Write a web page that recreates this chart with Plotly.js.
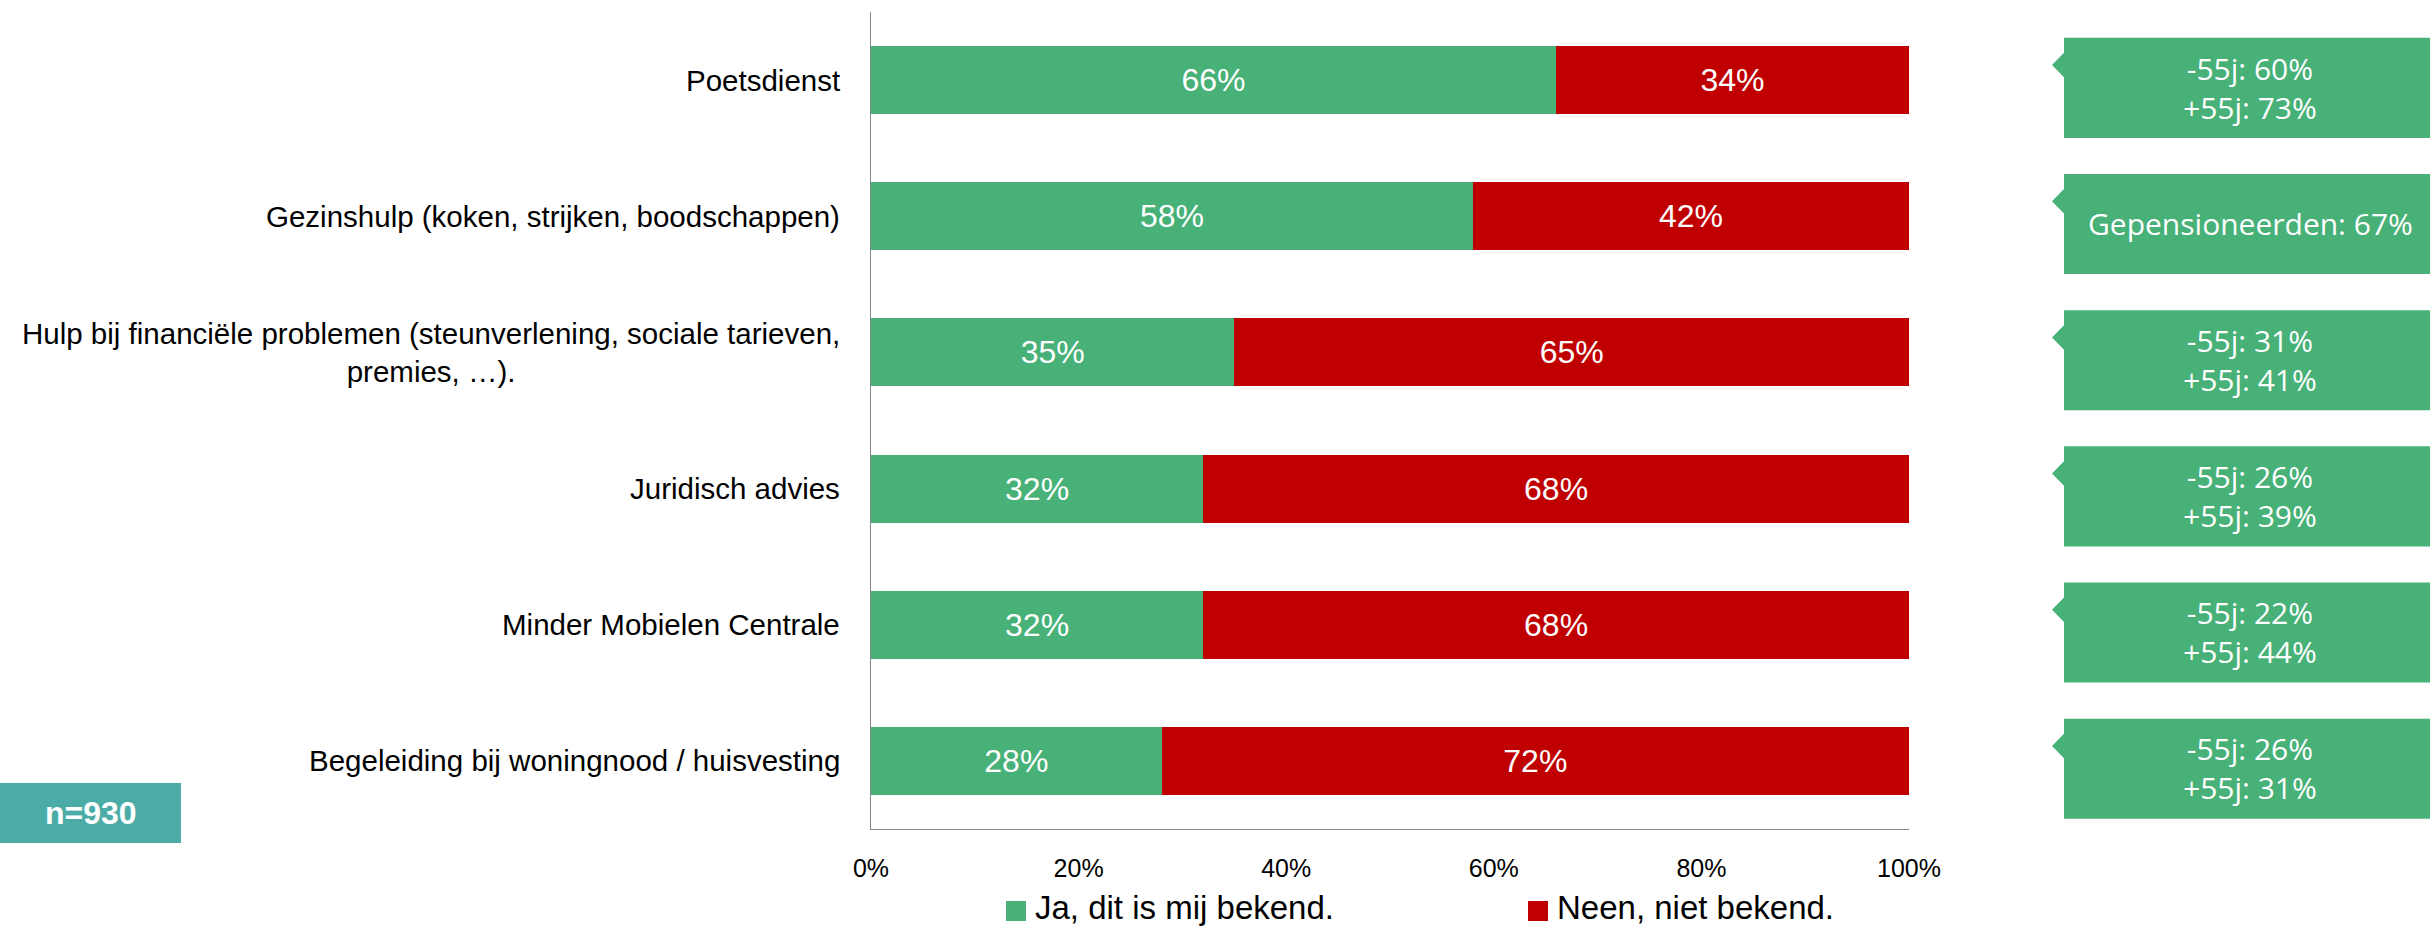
<!DOCTYPE html>
<html>
<head>
<meta charset="utf-8">
<script src="https://cdn.plot.ly/plotly-3.0.1.min.js"></script>
<style>html,body{margin:0;padding:0;background:#fff;}#chart{width:2430px;height:928px;}</style>
</head>
<body>
<div id="chart"></div>
<script>
// ---- data ----
const categories = [
  "Poetsdienst",
  "Gezinshulp (koken, strijken, boodschappen)",
  "Hulp bij financiële problemen (steunverlening, sociale tarieven,<br>premies, …).",
  "Juridisch advies",
  "Minder Mobielen Centrale",
  "Begeleiding bij woningnood / huisvesting"
];
const jaValues = [66, 58, 35, 32, 32, 28];
const neenValues = [34, 42, 65, 68, 68, 72];
const seriesNames = ["Ja, dit is mij bekend.", "Neen, niet bekend."];
const under55 = [60, null, 31, 26, 22, 26];
const over55 = [73, null, 41, 39, 44, 31];
const retired = [null, 67, null, null, null, null];
const xTicks = [0, 20, 40, 60, 80, 100];
const xTickText = ["0%", "20%", "40%", "60%", "80%", "100%"];
const sampleLabel = "n=930";

// ---- styles ----
const GREEN = "#47B178";
const RED = "#C00000";
const TEAL = "#4BACA7";
const AXIS = "#868686";
const FONT = "Liberation Sans, Arial, sans-serif";
const CALLFONT = "Open Sans, Noto Sans, sans-serif";

const idx = categories.map((_, i) => i);

function barTrace(name, vals, color) {
  return {
    type: "bar", orientation: "h", name: name,
    x: vals, y: idx, marker: {color: color},
    text: vals.map(v => v + "%"), texttemplate: "%{text}",
    textposition: "inside", insidetextanchor: "middle",
    textfont: {family: FONT, size: 32, color: "#ffffff"},
    hoverinfo: "skip", showlegend: false, constraintext: "none"
  };
}
const traces = [
  barTrace(seriesNames[0], jaValues, GREEN),
  barTrace(seriesNames[1], neenValues, RED)
];

const annotations = [];
const shapes = [];

// category labels
categories.forEach((c, i) => {
  annotations.push({
    xref: "paper", yref: "y", x: 0, y: i, xanchor: "right", yanchor: "middle",
    xshift: -29, text: c, showarrow: false, align: "center",
    font: {family: FONT, size: 29.5, color: "#000000"}
  });
});

// callouts
const xl = (2064 - 871) / 1038, xt = (2052 - 871) / 1038, xr = (2445 - 871) / 1038;
idx.forEach(i => {
  const top = i - 0.31, bot = i + 0.425, nt = i - 0.20, tip = i - 0.11, nb = i - 0.02;
  shapes.push({
    type: "path", xref: "paper", yref: "y", layer: "above",
    path: `M ${xl},${top} L ${xr},${top} L ${xr},${bot} L ${xl},${bot} L ${xl},${nb} L ${xt},${tip} L ${xl},${nt} Z`,
    fillcolor: GREEN, line: {width: 0}
  });
  let txt;
  if (retired[i] !== null) txt = `Gepensioneerden: ${retired[i]}%`;
  else txt = `-55j: ${under55[i]}%<br>+55j: ${over55[i]}%`;
  annotations.push({
    xref: "paper", yref: "y", x: (2250 - 871) / 1038, y: i + 0.055,
    xanchor: "center", yanchor: "middle", text: txt, showarrow: false, align: "center",
    font: {family: CALLFONT, size: 30, color: "#ffffff"}
  });
});

// sample size box
const py = p => (829 - p) / 817;
const px = p => (p - 871) / 1038;
shapes.push({type: "rect", xref: "paper", yref: "paper", x0: px(0), x1: px(181), y0: py(843), y1: py(783), fillcolor: TEAL, line: {width: 0}});
annotations.push({xref: "paper", yref: "paper", x: px(91), y: py(813), xanchor: "center", yanchor: "middle",
  text: "<b>" + sampleLabel + "</b>", showarrow: false, font: {family: FONT, size: 32, color: "#ffffff"}});

// legend
const legendColors = [GREEN, RED];
const legendX = [1006, 1528];
seriesNames.forEach((n, k) => {
  shapes.push({type: "rect", xref: "paper", yref: "paper", x0: px(legendX[k]), x1: px(legendX[k] + 20), y0: py(921), y1: py(901), fillcolor: legendColors[k], line: {width: 0}});
  annotations.push({xref: "paper", yref: "paper", x: px(legendX[k] + 27), y: py(908), xanchor: "left", yanchor: "middle",
    text: n, showarrow: false, font: {family: FONT, size: 33, color: "#000000"}});
});

const layout = {
  width: 2430, height: 928,
  margin: {l: 871, r: 521, t: 12, b: 99, pad: 0},
  paper_bgcolor: "#ffffff", plot_bgcolor: "#ffffff",
  barmode: "stack", bargap: 0.5,
  showlegend: false,
  font: {family: FONT, color: "#000000"},
  xaxis: {
    range: [0, 100], tickmode: "array", tickvals: xTicks, ticktext: xTickText,
    showgrid: false, zeroline: false, showline: true, linecolor: AXIS, linewidth: 1,
    ticks: "outside", ticklen: 17, tickcolor: "rgba(0,0,0,0)",
    tickfont: {family: FONT, size: 25, color: "#000000"}, fixedrange: true
  },
  yaxis: {
    range: [5.5, -0.5], showticklabels: false, ticks: "",
    showgrid: false, zeroline: false, showline: true, linecolor: AXIS, linewidth: 1, fixedrange: true
  },
  shapes: shapes,
  annotations: annotations
};

Plotly.newPlot("chart", traces, layout, {displayModeBar: false, staticPlot: true});
</script>
</body>
</html>
